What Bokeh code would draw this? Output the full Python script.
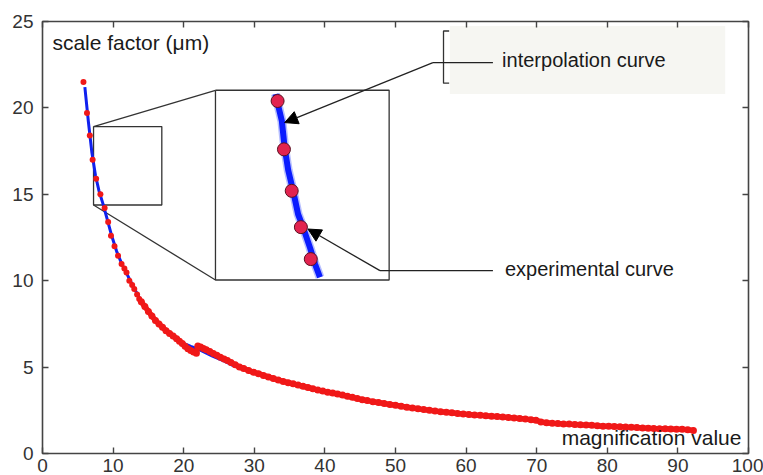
from bokeh.plotting import figure
from bokeh.models import (Range1d, LinearAxis, FixedTicker, Arrow, NormalHead, Label,
                          CustomJSTickFormatter)
from bokeh.embed import file_html
from bokeh.resources import INLINE

# ---------------- data ----------------
x_ticks = [0, 10, 20, 30, 40, 50, 60, 70, 80, 90, 100]
y_ticks = [0, 5, 10, 15, 20, 25]

# experimental curve: sparse part
exp_sparse_x = [5.8, 6.3, 6.7, 7.1, 7.6, 8.2, 8.8, 9.3, 9.7, 10.2, 10.7, 11.2, 11.6, 11.9,
                12.3, 12.7, 13.0, 13.4, 13.7]
exp_sparse_y = [21.5, 19.7, 18.4, 17.0, 15.9, 15.0, 14.2, 13.4, 12.6, 12.0, 11.45, 10.96, 10.7,
                10.48, 10.0, 9.75, 9.52, 9.2, 8.94]

# experimental curve: dense part
exp_dense_x = [14.0, 14.5, 15.0, 15.5, 16.0, 16.5, 17.0, 17.5, 18.0, 18.5, 19.0, 19.4, 19.8,
               20.2, 20.6, 21.0, 21.4, 21.8, 22.0, 22.4, 22.8, 23.2, 23.7, 24.2, 24.7, 25.2,
               25.7, 26.2, 26.7, 27.3, 27.9, 28.5, 29.2, 29.9, 30.6, 31.3, 32.0, 32.7, 33.4,
               34.1, 34.8, 35.5, 36.2, 36.9, 37.6, 38.3, 39.0, 39.7, 40.4, 41.1, 41.8, 42.5,
               43.2, 43.9, 44.6, 45.3, 46.0, 46.8, 47.6, 48.4, 49.2, 50.0, 50.8, 51.6, 52.4,
               53.2, 54.0, 54.8, 55.6, 56.4, 57.2, 58.0, 58.8, 59.6, 60.4, 61.2, 62.0, 62.8,
               63.6, 64.4, 65.2, 66.0, 66.8, 67.6, 68.4, 69.2, 69.9, 70.6, 71.4, 72.2, 73.0,
               73.8, 74.6, 75.4, 76.2, 77.0, 77.8, 78.6, 79.4, 80.2, 81.0, 81.8, 82.6, 83.4,
               84.2, 85.0, 85.8, 86.6, 87.4, 88.2, 89.0, 89.8, 90.6, 91.4, 92.2]
exp_dense_y = [8.78, 8.50, 8.22, 7.95, 7.70, 7.49, 7.30, 7.10, 6.95, 6.80, 6.64, 6.50, 6.36,
               6.20, 6.06, 5.96, 5.88, 5.80, 6.22, 6.16, 6.08, 6.00, 5.90, 5.79, 5.68, 5.57,
               5.47, 5.38, 5.26, 5.13, 5.00, 4.92, 4.80, 4.70, 4.62, 4.52, 4.43, 4.34, 4.25,
               4.17, 4.10, 4.03, 3.96, 3.89, 3.82, 3.74, 3.67, 3.61, 3.55, 3.50, 3.44, 3.38,
               3.31, 3.25, 3.18, 3.11, 3.06, 3.00, 2.95, 2.89, 2.84, 2.79, 2.74, 2.68, 2.63,
               2.59, 2.54, 2.50, 2.46, 2.42, 2.39, 2.36, 2.32, 2.29, 2.26, 2.23, 2.21, 2.18,
               2.16, 2.14, 2.11, 2.09, 2.06, 2.03, 2.00, 1.96, 1.93, 1.82, 1.78, 1.75, 1.73,
               1.71, 1.70, 1.68, 1.66, 1.65, 1.63, 1.61, 1.58, 1.57, 1.56, 1.55, 1.53, 1.52,
               1.50, 1.48, 1.46, 1.44, 1.43, 1.43, 1.42, 1.41, 1.40, 1.38, 1.33]

# interpolation curve
interp_x = [6.0, 6.5, 7.0, 7.5, 8.0, 8.6, 9.2, 9.8, 10.5, 11.2, 12.0, 13.0, 14.0, 15.0, 16.0,
            17.0, 18.0, 19.0, 20.0, 21.0, 22.0, 23.0, 24.0, 25.0, 26.0, 27.0]
interp_y = [21.2, 19.2, 17.4, 16.1, 15.2, 14.4, 13.5, 12.6, 11.7, 11.0, 10.35, 9.55, 8.8, 8.2,
            7.7, 7.28, 6.95, 6.63, 6.38, 6.20, 6.05, 5.85, 5.65, 5.47, 5.30, 5.09]

# magnified view (inset) of the two curves
inset_line_x = [33.0, 33.9, 34.3, 34.8, 35.5, 36.2, 36.9, 37.9, 38.6, 39.3]
inset_line_y = [20.8, 19.25, 17.7, 16.4, 15.2, 13.85, 13.1, 11.9, 10.97, 10.2]
inset_pts_x = [33.3, 34.2, 35.3, 36.6, 38.0]
inset_pts_y = [20.4, 17.6, 15.2, 13.1, 11.25]

FONT = "Liberation Sans"

p = figure(frame_width=706, frame_height=432, x_range=Range1d(0, 100), y_range=Range1d(0, 25),
           output_backend="svg", toolbar_location=None,
           min_border_left=42, min_border_top=21, min_border_right=15, min_border_bottom=22)
p.grid.visible = False
p.background_fill_color = "white"
p.border_fill_color = "white"
p.outline_line_color = "#444444"
p.outline_line_width = 1.6

for ax, tk in ((p.xaxis[0], x_ticks), (p.yaxis[0], y_ticks)):
    ax.ticker = FixedTicker(ticks=tk)
    ax.axis_line_color = None
    ax.major_tick_in = 6
    ax.major_tick_out = 0
    ax.minor_tick_line_color = None
    ax.major_tick_line_color = "#444444"
    ax.major_tick_line_width = 1.4
    ax.major_label_text_font = FONT
    ax.major_label_text_font_size = "19px"
    ax.major_label_text_color = "#333333"
p.xaxis.major_label_standoff = 5
p.yaxis.major_label_standoff = 9

for loc, tk in (("above", x_ticks), ("right", y_ticks)):
    ax = LinearAxis(ticker=FixedTicker(ticks=tk),
                    formatter=CustomJSTickFormatter(code="return ''"))
    ax.axis_line_color = None
    ax.major_tick_in = 6
    ax.major_tick_out = 0
    ax.minor_tick_line_color = None
    ax.major_tick_line_color = "#444444"
    ax.major_tick_line_width = 1.4
    ax.major_label_text_font_size = "8px"
    ax.major_label_standoff = 0
    p.add_layout(ax, loc)

# light grey legend background
p.quad(left=[57.7], right=[96.7], bottom=[20.8], top=[24.74], fill_color="#f6f6f2",
       line_color=None)

# zoom boxes and connectors
p.line([7.23, 16.9, 16.9, 7.23, 7.23], [18.92, 18.92, 14.38, 14.38, 18.92],
       line_color="#333333", line_width=1.3)
p.line([24.5, 49.1, 49.1, 24.5, 24.5], [21.02, 21.02, 10.04, 10.04, 21.02],
       line_color="#333333", line_width=1.3)
p.line([7.23, 24.5], [18.92, 21.02], line_color="#333333", line_width=1.3)
p.line([7.23, 24.5], [14.38, 10.04], line_color="#333333", line_width=1.3)

# curves
p.line(interp_x, interp_y, line_color="#1020ee", line_width=3)
p.scatter(exp_sparse_x, exp_sparse_y, size=6, fill_color="#f01818", line_color=None)
p.line(exp_dense_x, exp_dense_y, line_color="#f01818", line_width=5.5)
p.scatter(exp_dense_x, exp_dense_y, size=7, fill_color="#f01818", line_color=None)

# inset content
p.line(inset_line_x, inset_line_y, line_color="#6070ff", line_width=9, line_alpha=0.45)
p.line(inset_line_x, inset_line_y, line_color="#0a1cff", line_width=6)
p.scatter(inset_pts_x, inset_pts_y, size=13, fill_color="#e2234f", line_color="#5a1020",
          line_width=1)

# annotation lines / bracket / arrows
p.line([57.6, 56.8, 56.8, 57.6], [24.45, 24.45, 21.43, 21.43], line_color="#333333",
       line_width=1.3)
p.line([55.3, 63.8], [22.62, 22.62], line_color="#222222", line_width=1.3)
p.add_layout(Arrow(end=NormalHead(size=13, fill_color="black", line_color="black"),
                   x_start=55.3, y_start=22.62, x_end=34.3, y_end=19.15,
                   line_color="#222222", line_width=1.3))
p.line([63.8, 47.8], [10.58, 10.58], line_color="#222222", line_width=1.3)
p.add_layout(Arrow(end=NormalHead(size=13, fill_color="black", line_color="black"),
                   x_start=47.8, y_start=10.58, x_end=37.6, y_end=12.99,
                   line_color="#222222", line_width=1.3))

# texts
p.add_layout(Label(x=65.1, y=22.8, text="interpolation curve", text_font=FONT,
                   text_font_size="20px", text_color="#1a1a1a", text_baseline="middle"))
p.add_layout(Label(x=65.5, y=10.7, text="experimental curve", text_font=FONT,
                   text_font_size="20px", text_color="#1a1a1a", text_baseline="middle"))
p.add_layout(Label(x=1.4, y=23.8, text="scale factor (μm)", text_font=FONT,
                   text_font_size="21px", text_color="#1a1a1a", text_baseline="middle"))
p.add_layout(Label(x=99.0, y=0.9, text="magnification value", text_font=FONT,
                   text_font_size="21px", text_color="#1a1a1a", text_baseline="middle",
                   text_align="right"))

open("out.html", "w").write(file_html(p, INLINE))
